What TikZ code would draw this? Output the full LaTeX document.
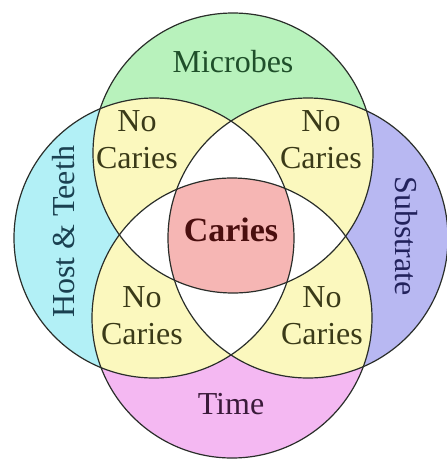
\documentclass[tikz,border=0pt]{standalone}
\usepackage{fontspec}
\setmainfont{Liberation Serif}
\definecolor{cgreen}{HTML}{B8F2BC}
\definecolor{ccyan}{HTML}{B2F0F6}
\definecolor{cblue}{HTML}{B8B8F2}
\definecolor{cpink}{HTML}{F4B8F2}
\definecolor{cyellow}{HTML}{FBF8BE}
\definecolor{cred}{HTML}{F6B6B4}
\definecolor{cline}{HTML}{2A2E2A}
\definecolor{tgreen}{HTML}{1F4F2A}
\definecolor{tteal}{HTML}{1A4050}
\definecolor{tnavy}{HTML}{22225C}
\definecolor{tpurple}{HTML}{3A1A3A}
\definecolor{tolive}{HTML}{3A3A18}
\definecolor{tmaroon}{HTML}{4A0F0F}
\begin{document}
\begin{tikzpicture}[x=1pt,y=-1pt,
  lbl/.style={inner sep=0pt,font=\fontsize{32}{37}\selectfont},
  nolbl/.style={lbl,align=center,text=tolive},
  ring/.style={draw=cline,line width=1.2pt}]
\useasboundingbox (0,0) rectangle (447,459);
\fill[white] (0,0) rectangle (447,459);
\def\R{140pt}
\coordinate (cT) at (233,153);
\coordinate (cB) at (232,318);
\coordinate (cL) at (154,238);
\coordinate (cR) at (308,238);
% single circles
\fill[cgreen] (cT) circle[radius=\R];
\fill[cpink] (cB) circle[radius=\R];
\fill[ccyan] (cL) circle[radius=\R];
\fill[cblue] (cR) circle[radius=\R];
% adjacent pairs
\begin{scope}\clip (cT) circle[radius=\R];
  \fill[cyellow] (cL) circle[radius=\R];
  \fill[cyellow] (cR) circle[radius=\R];
\end{scope}
\begin{scope}\clip (cB) circle[radius=\R];
  \fill[cyellow] (cL) circle[radius=\R];
  \fill[cyellow] (cR) circle[radius=\R];
\end{scope}
% triples (white)
\begin{scope}\clip (cT) circle[radius=\R];
  \fill[white] (cB) circle[radius=\R];
\end{scope}
\begin{scope}\clip (cL) circle[radius=\R];
  \fill[white] (cR) circle[radius=\R];
\end{scope}
% quadruple
\begin{scope}\clip (cT) circle[radius=\R];\clip (cB) circle[radius=\R];
  \clip (cL) circle[radius=\R];
  \fill[cred] (cR) circle[radius=\R];
\end{scope}
% outlines
\draw[ring] (cT) circle[radius=\R];
\draw[ring] (cB) circle[radius=\R];
\draw[ring] (cL) circle[radius=\R];
\draw[ring] (cR) circle[radius=\R];
% labels
\node[lbl,text=tgreen] (microbes) at (233,62) {Microbes};
\node[lbl,text=tpurple] (time) at (231,404) {Time};
\node[lbl,text=tteal,rotate=90] (host) at (64,232) {Host \& Teeth};
\node[lbl,text=tnavy,rotate=-90] (substrate) at (406,236) {Substrate};
\node[lbl,text=tmaroon,font=\fontsize{34}{40}\selectfont\bfseries] (caries) at (231,230) {Caries};
\node[nolbl] (ncTL) at (137,140) {No\\Caries};
\node[nolbl] (ncTR) at (321,140) {No\\Caries};
\node[nolbl] (ncBL) at (142,316) {No\\Caries};
\node[nolbl] (ncBR) at (322,316) {No\\Caries};
\end{tikzpicture}
\end{document}
